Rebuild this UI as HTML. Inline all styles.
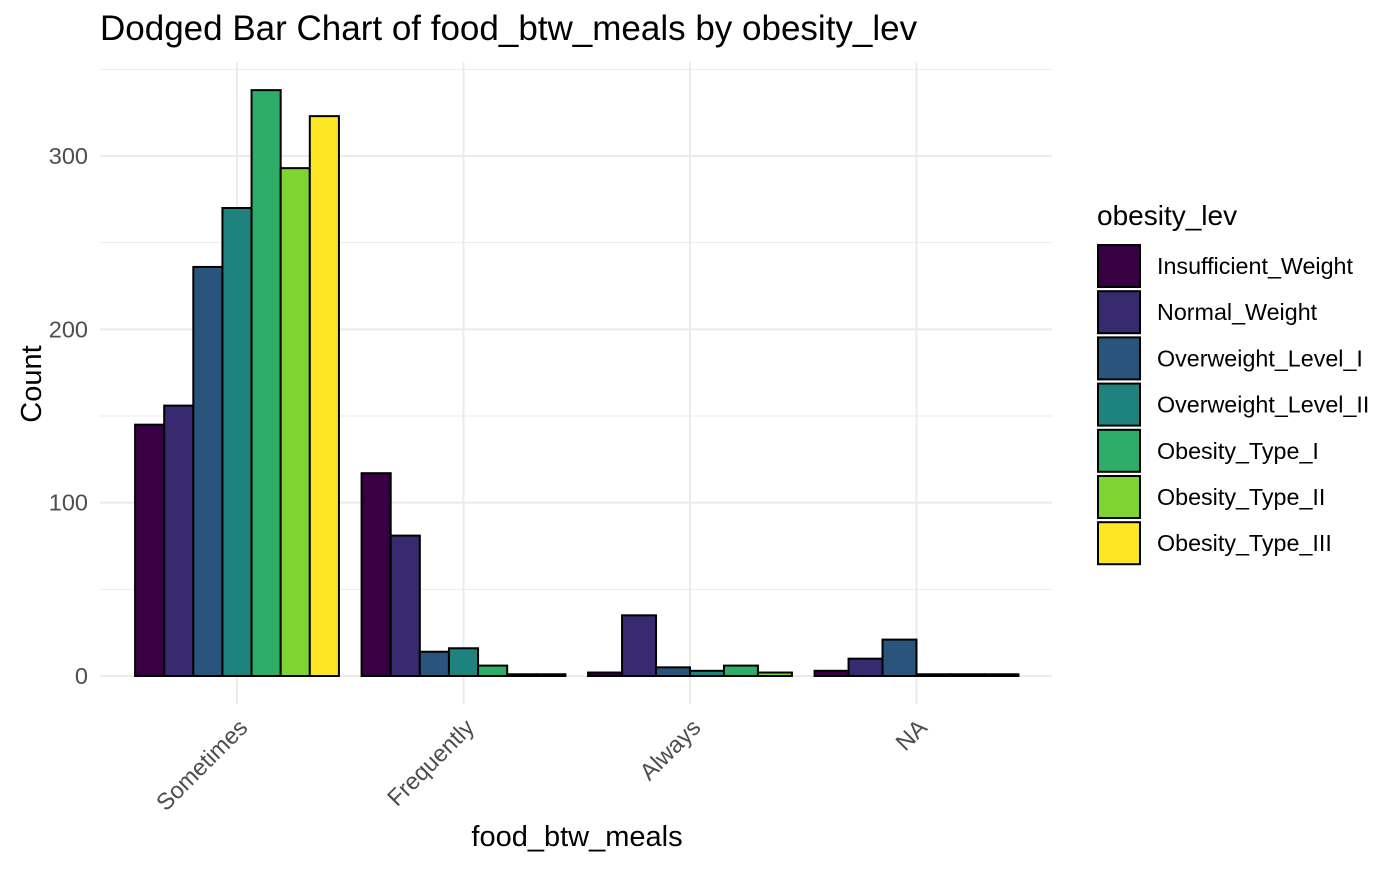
<!DOCTYPE html>
<html><head><meta charset="utf-8"><style>
body{margin:0;background:#fff;}
svg{font-family:"Liberation Sans",Arial,sans-serif;}
</style></head><body>
<svg id="chart" width="1400" height="865" xmlns="http://www.w3.org/2000/svg">
<text x="100" y="40" font-size="35" fill="#000">Dodged Bar Chart of food_btw_meals by obesity_lev</text>
<g id="grid"></g><g id="bars"></g><g id="axes"></g><g id="legend"></g>
<text x="577" y="846" font-size="29" text-anchor="middle" fill="#000">food_btw_meals</text>
<text transform="translate(41,384) rotate(-90)" font-size="29" text-anchor="middle" fill="#000">Count</text>
</svg>
<script>
const categories = ["Sometimes","Frequently","Always","NA"];
const levels = ["Insufficient_Weight","Normal_Weight","Overweight_Level_I","Overweight_Level_II","Obesity_Type_I","Obesity_Type_II","Obesity_Type_III"];
const colors = ["#370042","#372A6F","#29557D","#1E827D","#2EAD69","#7ED432","#FDE725"];
const sometimesLevels = [0,1,2,3,4,5,6];
const sometimesCounts = [145,156,236,270,338,293,323];
const frequentlyLevels = [0,1,2,3,4,5,6];
const frequentlyCounts = [117,81,14,16,6,1,1];
const alwaysLevels = [0,1,2,3,4,5];
const alwaysCounts = [2,35,5,3,6,2];
const naLevels = [0,1,2,3,4,5];
const naCounts = [3,10,21,1,1,1];
const yTicks = [0,100,200,300];
const yMinor = [50,150,250,350];

const NS="http://www.w3.org/2000/svg";
const x0=100,x1=1052,y0=676,pxPerUnit=520/300;
const catStep=226.5, firstCenter=237;
const y=v=>y0-v*pxPerUnit;
const xc=i=>firstCenter+i*catStep;
function mk(tag,attrs,parent){const e=document.createElementNS(NS,tag);for(const k in attrs)e.setAttribute(k,attrs[k]);parent.appendChild(e);return e;}
const grid=document.getElementById('grid'),bars=document.getElementById('bars'),axes=document.getElementById('axes'),legend=document.getElementById('legend');
yMinor.forEach(v=>{const l=mk('line',{x1:x0,x2:x1,y1:y(v),y2:y(v),stroke:'#ebebeb','stroke-width':1},grid);

});
yTicks.forEach(v=>{const l=mk('line',{x1:x0,x2:x1,y1:y(v),y2:y(v),stroke:'#ebebeb','stroke-width':2},grid);


const t=mk('text',{x:88,y:y(v)+8,'font-size':23.5,'text-anchor':'end',fill:'#4d4d4d'},axes);t.textContent=v;

});
categories.forEach((c,i)=>{const l=mk('line',{x1:xc(i),x2:xc(i),y1:62,y2:704,stroke:'#ebebeb','stroke-width':2},grid);


const t=mk('text',{transform:`translate(${xc(i)+12},${729}) rotate(-45)`,'font-size':23.5,'text-anchor':'end',fill:'#4d4d4d'},axes);t.textContent=c;

});
const groups=[[sometimesLevels,sometimesCounts],[frequentlyLevels,frequentlyCounts],[alwaysLevels,alwaysCounts],[naLevels,naCounts]];
const groupW=catStep*0.9;
groups.forEach(([lv,cn],i)=>{const bw=groupW/lv.length;const left=xc(i)-groupW/2;
lv.forEach((L,j)=>{const r=mk('rect',{x:left+j*bw,y:y(cn[j]),width:bw,height:y0-y(cn[j]),fill:colors[L],stroke:'#000','stroke-width':2},bars);

});});
const lt=mk('text',{x:1097,y:225,'font-size':28,fill:'#000'},legend);lt.textContent='obesity_lev';


levels.forEach((L,k)=>{const yy=245+k*46.2;
const r=mk('rect',{x:1098,y:yy,width:42,height:42,fill:colors[k],stroke:'#000','stroke-width':2},legend);


const t=mk('text',{x:1157,y:yy+29,'font-size':23.3,fill:'#000'},legend);t.textContent=L;

});
</script>
</body></html>
